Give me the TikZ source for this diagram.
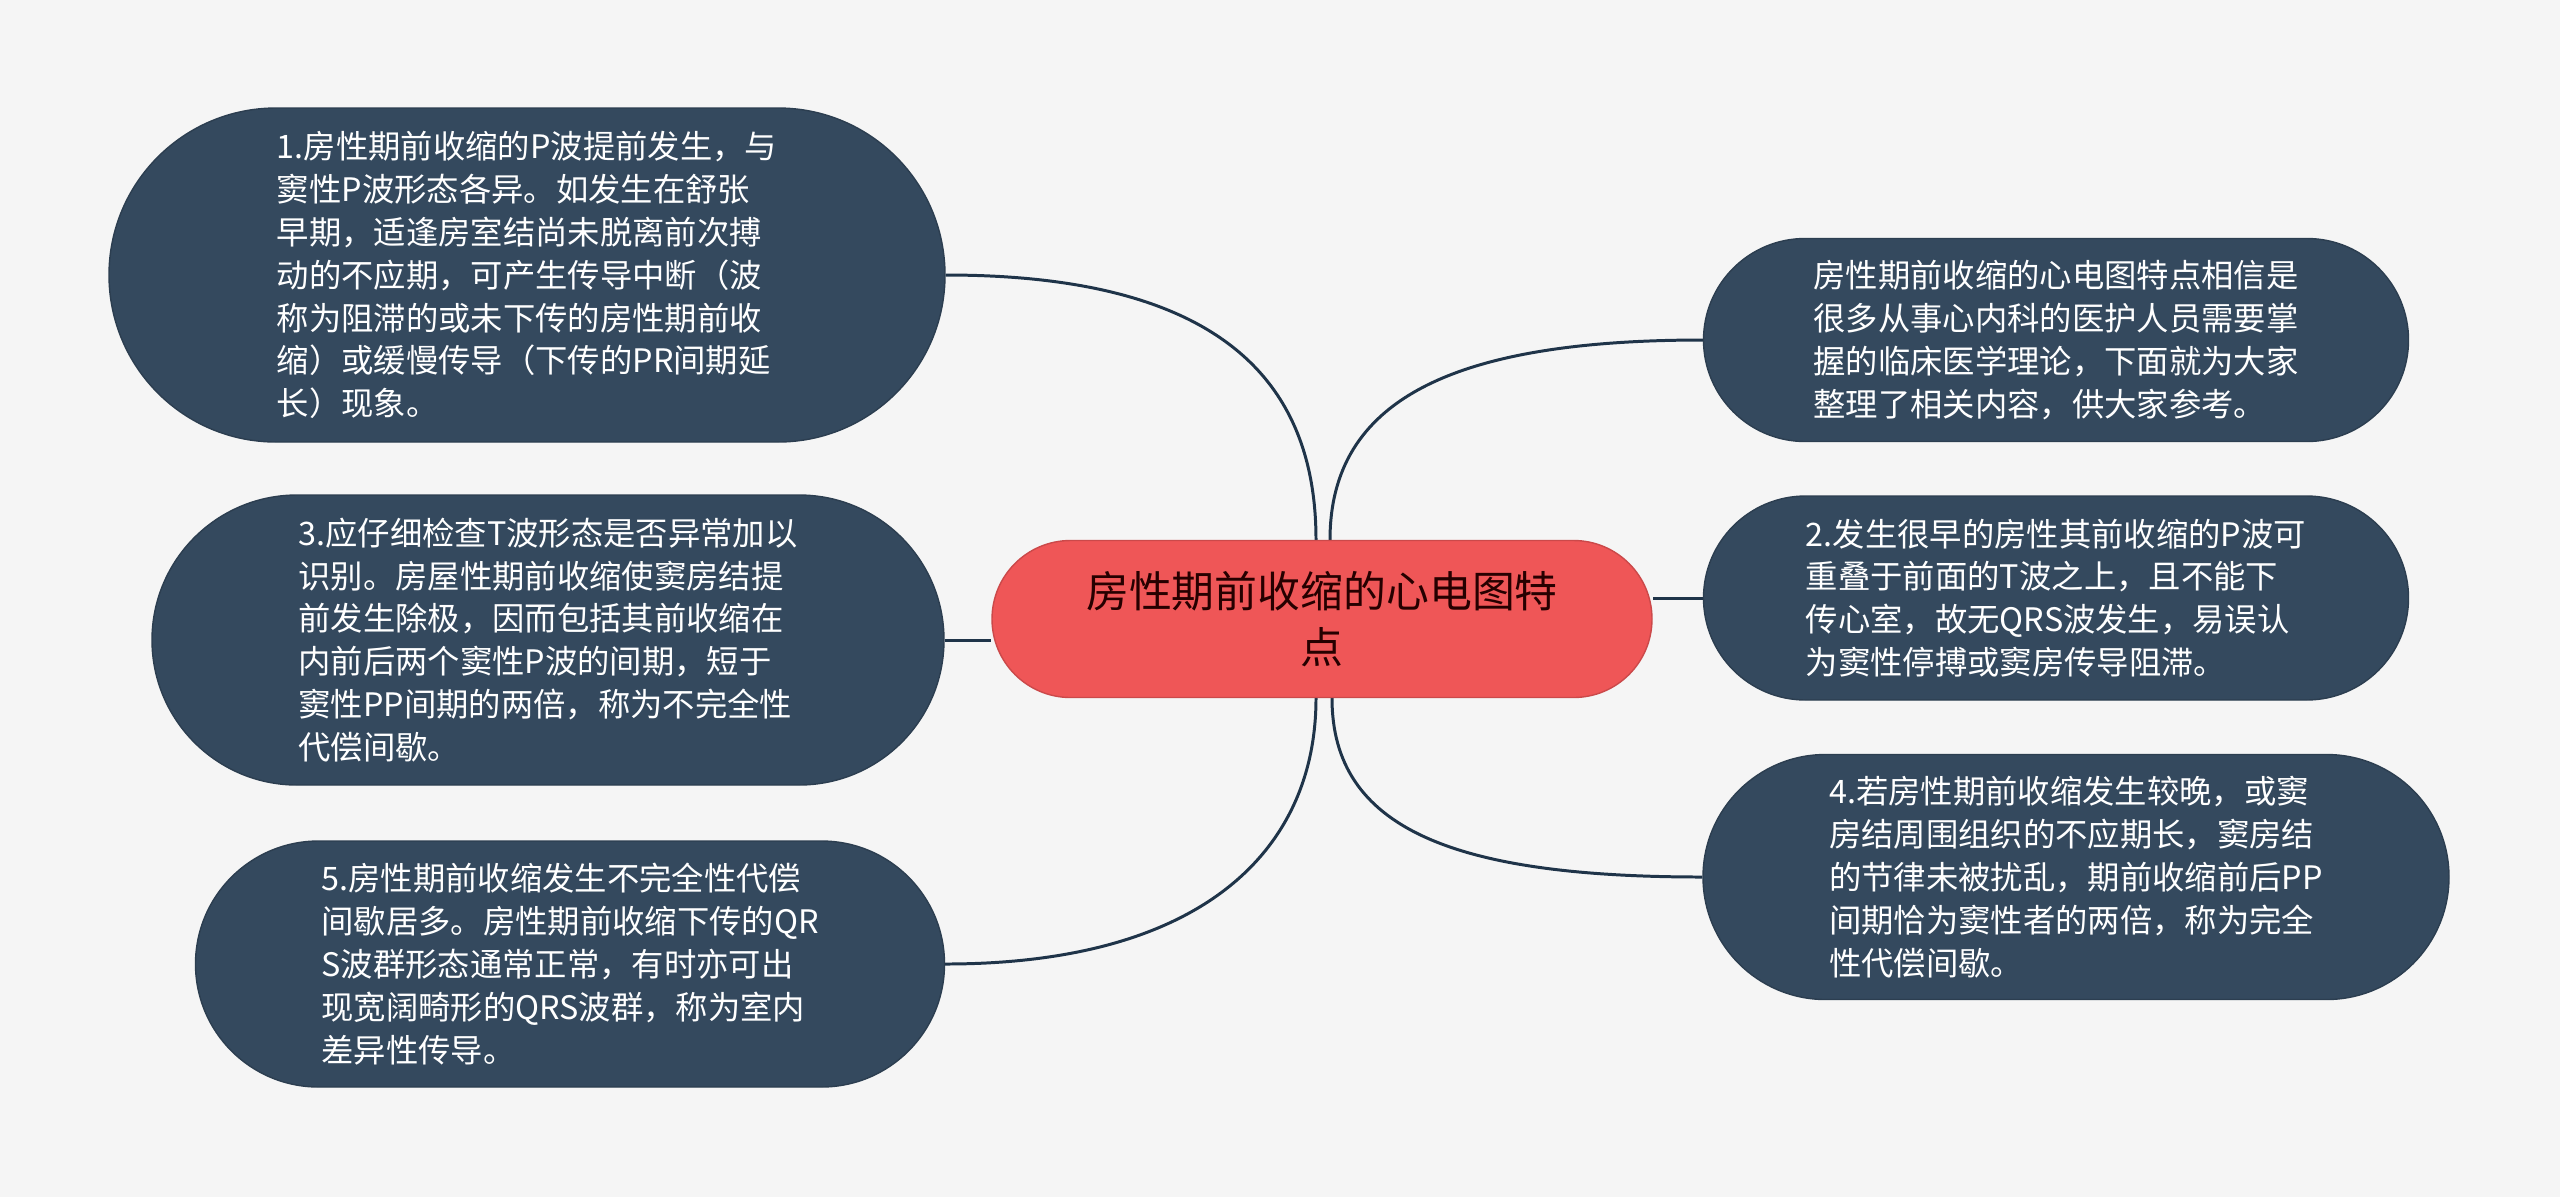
\documentclass[tikz,border=0pt]{standalone}
\usepackage{fontspec}
\setmainfont{Noto Sans CJK SC}
\usetikzlibrary{backgrounds}

\definecolor{hgrund}{HTML}{F5F5F5}
\definecolor{blattblau}{HTML}{34495E}
\definecolor{kernrot}{HTML}{EF5657}
\definecolor{linie}{HTML}{1F3449}

\tikzset{
  blatt/.style 2 args={fill=blattblau, draw=blattblau!85!black, line width=0.4pt,
    minimum width=#1cm, minimum height=#2cm, rounded corners=#2*0.5cm,
    text=white, align=left, inner sep=0pt,
    font=\fontsize{9.2pt}{12.2pt}\selectfont},
  kern/.style={fill=kernrot, draw=kernrot!85!black, line width=0.4pt,
    minimum width=6.6cm, minimum height=1.57cm, rounded corners=0.785cm,
    text=black!75!red!60!black, align=center, inner sep=0pt,
    font=\fontsize{12.2pt}{15.8pt}\selectfont},
  ast/.style={draw=linie, line width=0.85pt}
}

\begin{document}
\begin{tikzpicture}
    % Hintergrund
    \useasboundingbox (0,0) rectangle (25.6,-11.97);
    \begin{pgfonlayer}{background}
      \fill[hgrund] (0,0) rectangle (25.6,-11.97);
    \end{pgfonlayer}

    % Zentrales Thema
    \node[kern] (main) at (13.22,-6.19) {房性期前收缩的心电图特\\点};

    % Linke Seite
    \node[blatt={8.36}{3.34}] (n1) at (5.27,-2.75) {1.房性期前收缩的P波提前发生，与\\窦性P波形态各异。如发生在舒张\\早期，适逢房室结尚未脱离前次搏\\动的不应期，可产生传导中断（波\\称为阻滞的或未下传的房性期前收\\缩）或缓慢传导（下传的PR间期延\\长）现象。};
    \node[blatt={7.92}{2.90}] (n3) at (5.48,-6.40) {3.应仔细检查T波形态是否异常加以\\识别。房屋性期前收缩使窦房结提\\前发生除极，因而包括其前收缩在\\内前后两个窦性P波的间期，短于\\窦性PP间期的两倍，称为不完全性\\代偿间歇。};
    \node[blatt={7.49}{2.46}] (n5) at (5.70,-9.64) {5.房性期前收缩发生不完全性代偿\\间歇居多。房性期前收缩下传的QR\\S波群形态通常正常，有时亦可出\\现宽阔畸形的QRS波群，称为室内\\差异性传导。};

    % Rechte Seite
    \node[blatt={7.05}{2.03}] (r0) at (20.56,-3.40) {房性期前收缩的心电图特点相信是\\很多从事心内科的医护人员需要掌\\握的临床医学理论，下面就为大家\\整理了相关内容，供大家参考。};
    \node[blatt={7.05}{2.04}] (n2) at (20.56,-5.98) {2.发生很早的房性其前收缩的P波可\\重叠于前面的T波之上，且不能下\\传心室，故无QRS波发生，易误认\\为窦性停搏或窦房传导阻滞。};
    \node[blatt={7.46}{2.45}] (n4) at (20.76,-8.77) {4.若房性期前收缩发生较晚，或窦\\房结周围组织的不应期长，窦房结\\的节律未被扰乱，期前收缩前后PP\\间期恰为窦性者的两倍，称为完全\\性代偿间歇。};

    % Verbindungen
    \begin{pgfonlayer}{background}
      \draw[ast] (n1.east) .. controls +(2.6,0) and +(0,1.7) .. ([xshift=-0.06cm]main.north);
      \draw[ast] (n3.east) -- (main.west |- n3.east);
      \draw[ast] (n5.east) .. controls +(2.6,0) and +(0,-1.5) .. ([xshift=-0.06cm]main.south);
      \draw[ast] (r0.west) .. controls +(-2.5,0) and +(0,1.4) .. ([xshift=0.08cm]main.north);
      \draw[ast] (n2.west) -- (main.east |- n2.west);
      \draw[ast] (n4.west) .. controls +(-2.5,0) and +(0,-1.3) .. ([xshift=0.1cm]main.south);
    \end{pgfonlayer}
\end{tikzpicture}
\end{document}
